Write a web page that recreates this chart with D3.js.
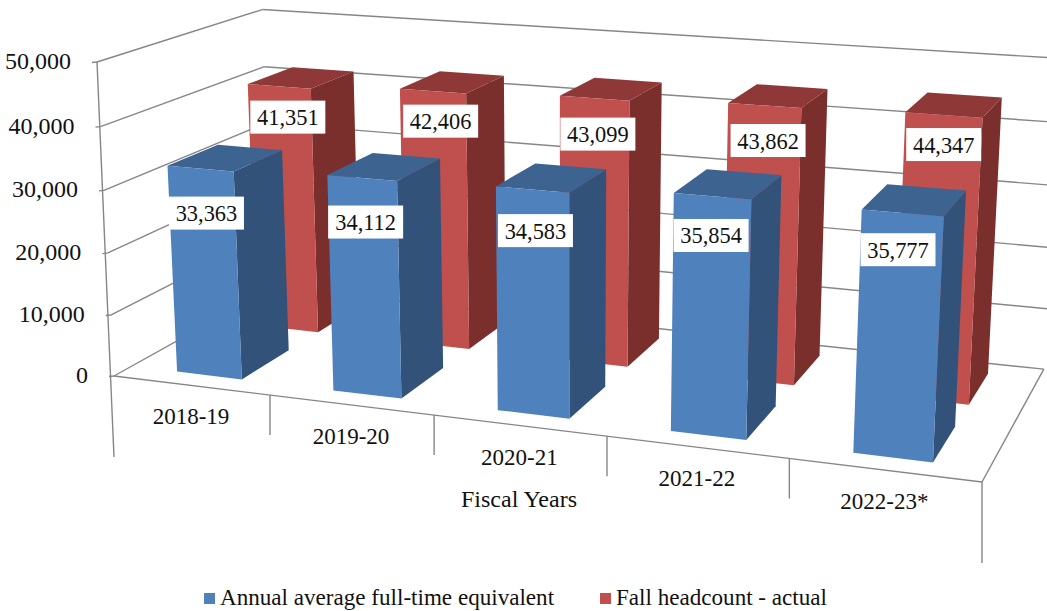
<!DOCTYPE html>
<html><head><meta charset="utf-8">
<script src="https://cdnjs.cloudflare.com/ajax/libs/d3/7.8.5/d3.min.js"></script>
<style>html,body{margin:0;padding:0;background:#fff}svg{display:block}text{font-family:"Liberation Serif",serif;fill:#111}</style>
</head><body><div id="c"></div>
<script>
const categories=["2018-19","2019-20","2020-21","2021-22","2022-23*"];
const seriesNames=["Annual average full-time equivalent","Fall headcount - actual"];
const fte=[33363,34112,34583,35854,35777];
const headcount=[41351,42406,43099,43862,44347];
const axisTitle="Fiscal Years";
const W=1047,H=611;
const svg=d3.select("#c").append("svg").attr("width",W).attr("height",H);

// 3D perspective projection fitted to the chart box corners
const A=[114,376],B=[982,482],C=[272,288],D=[97,62];
const pa=-0.1236,pb=-0.0361,pc=0.1345;
const px=[0,1].map(i=>B[i]*(1+pa)-A[i]);
const py=[0,1].map(i=>D[i]*(1+pb)-A[i]);
const pz=[0,1].map(i=>C[i]*(1+pc)-A[i]);
function proj(u,v,t){const w=1+pa*u+pb*v+pc*t;
  return [(A[0]+px[0]*u+py[0]*v+pz[0]*t)/w,(A[1]+px[1]*u+py[1]*v+pz[1]*t)/w];}

const x=d3.scaleBand().domain(categories).range([0.002,1]).paddingInner(.58).paddingOuter(.29);
const zs=d3.scaleBand().domain(seriesNames).range([0,1]).paddingInner(.4).paddingOuter(.2);
const y=d3.scaleLinear().domain([0,50000]).range([0,1]);
const fmt=d3.format(",");
const GRID="#868686";
const line=(a,b)=>svg.append("line").attr("x1",a[0]).attr("y1",a[1]).attr("x2",b[0]).attr("y2",b[1]).attr("stroke",GRID).attr("stroke-width",1.4);

// walls
y.ticks(5).forEach(v=>{const t=y(v);
  const p0=proj(0,t,0),p1=proj(0,t,1),p2=proj(1,t,1);
  line([p0[0]-5,p0[1]+0.5],p0);line(p0,p1);line(p1,p2);
  svg.append("text").attr("x",p0[0]-26).attr("y",p0[1]+7).attr("text-anchor","end").attr("font-size",24).text(fmt(v));
});
line(proj(0,1,0),[A[0],A[1]+81]);
line(A,B);line(B,proj(1,0,1));
line(B,[B[0],B[1]+81]);
categories.slice(1).forEach((c,i)=>{const p=proj((i+1)/5,0,0);line(p,[p[0],p[1]+40]);});
categories.forEach((c,i)=>{const p=proj((i+.5)/5,0,0);
  svg.append("text").attr("x",p[0]).attr("y",p[1]+39).attr("text-anchor","middle").attr("font-size",23).text(c);});
svg.append("text").attr("x",519).attr("y",507).attr("text-anchor","middle").attr("font-size",24).text(axisTitle);

const palette=[{front:"#4F81BD",top:"#3D6491",side:"#325279"},{front:"#C0504D",top:"#8E3937",side:"#7A2F2D"}];
// hand-placed data labels: pixel offset from the top of each bar's front face
const fteLabelOffset=[[6,44.4],[3.6,44.1],[3,41.1],[-1.3,39.2],[-4.5,36.8]];
const headcountLabelOffset=[[8.7,30.8],[7.8,30.1],[3.4,35.8],[3.5,35],[0,29.6]];
const poly=(pts,fill)=>svg.append("polygon").attr("points",pts.map(p=>p.join(",")).join(" ")).attr("fill",fill);
const labels=[];
[[headcount,1,headcountLabelOffset],[fte,0,fteLabelOffset]].forEach(([vals,s,off])=>{
  const name=seriesNames[s],col=palette[s],t0=zs(name),t1=t0+zs.bandwidth();
  categories.forEach((c,i)=>{
    const u0=x(c),u1=u0+x.bandwidth(),v=y(vals[i]);
    poly([proj(u1,0,t0),proj(u1,0,t1),proj(u1,v,t1),proj(u1,v,t0)],col.side);
    poly([proj(u0,v,t0),proj(u1,v,t0),proj(u1,v,t1),proj(u0,v,t1)],col.top);
    poly([proj(u0,0,t0),proj(u1,0,t0),proj(u1,v,t0),proj(u0,v,t0)],col.front);
    const p=proj((u0+u1)/2,v,t0);
    labels.push({x:p[0]+off[i][0],y:p[1]+off[i][1],t:fmt(vals[i])});
  });
});
labels.forEach(l=>{
  svg.append("rect").attr("x",l.x-37.5).attr("y",l.y-16.5).attr("width",75).attr("height",33).attr("fill","#fff");
  svg.append("text").attr("x",l.x).attr("y",l.y+8).attr("text-anchor","middle").attr("font-size",22.4).text(l.t);
});
// legend
[[204,220],[600,616]].forEach(([sx,tx],i)=>{
  svg.append("rect").attr("x",sx).attr("y",593).attr("width",11).attr("height",11).attr("fill",palette[i].front);
  svg.append("text").attr("x",tx).attr("y",605).attr("font-size",23.1).text(seriesNames[i]);
});
</script></body></html>
